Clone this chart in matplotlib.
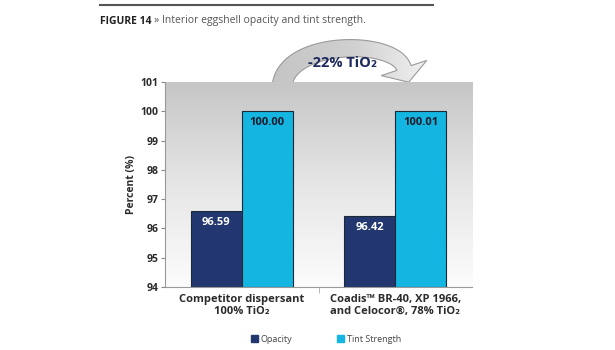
import matplotlib.pyplot as plt
import numpy as np
from matplotlib.colors import LinearSegmentedColormap
from matplotlib.patches import Polygon
from matplotlib.lines import Line2D

plt.rcParams["font.family"] = ["Open Sans", "DejaVu Sans"]

# data
groups = ["Competitor dispersant\n100% TiO₂", "Coadis™ BR-40, XP 1966,\nand Celocor®, 78% TiO₂"]
opacity = [96.59, 96.42]
tint = [100.00, 100.01]
series = ["Opacity", "Tint Strength"]
yticks = [94, 95, 96, 97, 98, 99, 100, 101]

c_opacity = "#22376f"
c_tint = "#14b5e0"
txt = "#2b2b2b"

W, H = 615, 350
fig = plt.figure(figsize=(W / 100, H / 100), dpi=100)
ax = fig.add_axes([0.2683, 0.18, 0.4992, 0.5857])

# gradient background (gray top -> white bottom)
grad = np.linspace(0, 1, 256).reshape(-1, 1)
bg = LinearSegmentedColormap.from_list("bg", ["#c6c6c6", "#e6e6e6", "#fcfcfc"])
ax.imshow(grad, cmap=bg, aspect="auto", origin="upper",
          extent=[-0.5, 1.5, 94, 101], zorder=0)

x = np.arange(len(groups))
w = 0.333
ax.bar(x - w / 2, np.array(opacity) - 94, w, bottom=94, color=c_opacity,
       edgecolor="#1b2838", linewidth=0.8, zorder=2)
ax.bar(x + w / 2, np.array(tint) - 94, w, bottom=94, color=c_tint,
       edgecolor="#1b2838", linewidth=0.8, zorder=2)

for xi, v in zip(x - w / 2, opacity):
    ax.annotate(f"{v:.2f}", (xi, v), xytext=(0, -4), textcoords="offset points",
                ha="center", va="top", color="white", fontsize=8, fontweight="bold", zorder=3)
for xi, v in zip(x + w / 2, tint):
    ax.annotate(f"{v:.2f}", (xi, v), xytext=(0, -4), textcoords="offset points",
                ha="center", va="top", color="#1a1a2a", fontsize=8, fontweight="bold", zorder=3)

ax.set_xlim(-0.5, 1.5)
ax.set_ylim(94, 101)
ax.set_yticks(yticks)
ax.set_yticklabels([str(t) for t in yticks], fontsize=7.5, fontweight="bold", color=txt)
ax.set_xticks(x)
ax.set_xticklabels(groups, fontsize=8, fontweight="bold", color=txt, linespacing=1.15)
ax.tick_params(axis="x", length=0, pad=5)
ax.tick_params(axis="y", length=3, color="#888888", pad=1.5)
ax.set_xticks([0.5], minor=True)
ax.tick_params(axis="x", which="minor", length=4, color="#aaaaaa")
ax.set_ylabel("Percent (%)", fontsize=7.5, fontweight="bold", color=txt, labelpad=3)

for s in ["top", "right"]:
    ax.spines[s].set_visible(False)
ax.spines["left"].set_color("#999999")
ax.spines["bottom"].set_color("#999999")

# header rule and title
fig.add_artist(Line2D([100 / W, 433 / W], [1 - 5 / H] * 2, color="#555555", lw=1.5))
t1 = fig.text(100 / W, 1 - 21 / H, "FIGURE 14", fontsize=7.5, fontweight="bold",
              color="#222222", va="center")
fig.canvas.draw()
bb = t1.get_window_extent()
fig.text((bb.x1 + 3) / W, 1 - 21 / H, "» Interior eggshell opacity and tint strength.",
         fontsize=7.5, color="#555555", va="center")

# curved arrow outline, built in pixel space (y measured from top) behind the plot area
ax_arr = fig.add_axes([0, 0, 1, 1], zorder=-1)
ax_arr.set_xlim(0, W)
ax_arr.set_ylim(H, 0)
ax_arr.axis("off")

P = np.array([(282, 88), (283, 40), (394, 38), (404, 68)], float)
t = np.linspace(0, 1, 60)[:, None]
c = ((1 - t) ** 3 * P[0] + 3 * (1 - t) ** 2 * t * P[1]
     + 3 * (1 - t) * t ** 2 * P[2] + t ** 3 * P[3])
d = (-3 * (1 - t) ** 2 * P[0] + 3 * ((1 - t) ** 2 - 2 * t * (1 - t)) * P[1]
     + 3 * (2 * t * (1 - t) - t ** 2) * P[2] + 3 * t ** 2 * P[3])
d /= np.linalg.norm(d, axis=1, keepdims=True)
n = np.column_stack([-d[:, 1], d[:, 0]])
half = (20 - 5 * t) / 2
side_a = c + n * half
side_b = c - n * half
de, ne = d[-1], n[-1]
tip = c[-1] + de * 15
barb_a = c[-1] + ne * 24
barb_b = c[-1] - ne * 24
outline = np.vstack([side_a, barb_a, tip, barb_b, side_b[::-1]])

arrow_fill = Polygon(outline, closed=True, facecolor="none", edgecolor="none")
ax_arr.add_patch(arrow_fill)
shade = LinearSegmentedColormap.from_list("arr", ["#c4c4c4", "#d0d0d0", "#f6f6f6"])
img = ax_arr.imshow(np.linspace(0, 1, 256).reshape(1, -1), cmap=shade, aspect="auto",
                    extent=[265, 440, 95, 25], zorder=1)
img.set_clip_path(arrow_fill)
ax_arr.add_patch(Polygon(outline, closed=True, facecolor="none", edgecolor="#9a9a9a",
                         linewidth=0.8, zorder=2))
ax_arr.set_xlim(0, W)
ax_arr.set_ylim(H, 0)

fig.text(343 / W, 1 - 63 / H, "-22% TiO₂", fontsize=10.5, fontweight="bold",
         color="#1c2a5e", ha="center", va="center")

# legend
handles = [plt.Rectangle((0, 0), 1, 1, color=c_opacity), plt.Rectangle((0, 0), 1, 1, color=c_tint)]
fig.legend(handles, series, loc="center", bbox_to_anchor=(0.53, 1 - 339 / H), ncol=2,
           frameon=False, fontsize=6.5, handlelength=0.8, handleheight=0.8,
           handletextpad=0.3, columnspacing=5, labelcolor="#444444")

fig.savefig("out.png", dpi=100)
